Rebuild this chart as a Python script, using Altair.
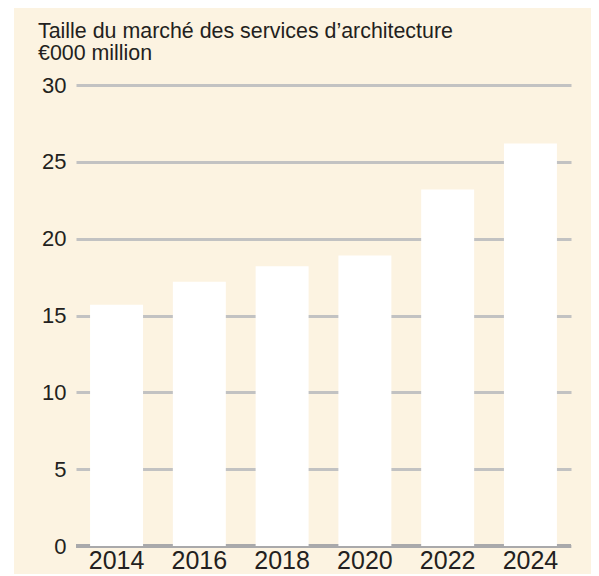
import altair as alt
import pandas as pd

years = ["2014", "2016", "2018", "2020", "2022", "2024"]
values = [15.7, 17.2, 18.2, 18.9, 23.2, 26.2]
y_ticks = [0, 5, 10, 15, 20, 25, 30]
title_lines = ["Taille du marché des services d’architecture", "€000 million"]

df = pd.DataFrame({"year": years, "value": values})

FONT = "Liberation Sans"
TEXT = "#231F20"
BG = "#FCF3E1"

base = alt.Chart(df)

# white strip at the far left of the panel
strip = base.mark_rect(color="#FFFFFF").encode(
    x=alt.value(-68), x2=alt.value(-62), y=alt.value(-77), y2=alt.value(489)
)

zero = base.mark_rule(color="#A9A9AB", strokeWidth=4).encode(
    y=alt.datum(0), x=alt.value(0), x2=alt.value(495)
)

bars = base.mark_bar(color="#FFFFFF").encode(
    x=alt.X(
        "year:N",
        sort=years,
        scale=alt.Scale(paddingInner=0.36, paddingOuter=0.17),
        axis=alt.Axis(
            title=None, labelAngle=0, domain=False, ticks=False,
            labelFontSize=25, labelFont=FONT, labelColor=TEXT, labelPadding=2,
        ),
    ),
    y=alt.Y(
        "value:Q",
        scale=alt.Scale(domain=[0, 30], nice=False),
        axis=alt.Axis(
            title=None, values=y_ticks, domain=False, ticks=False,
            grid=True, gridColor="#C2C2C2", gridWidth=3,
            labelFontSize=22, labelFont=FONT, labelColor=TEXT, labelPadding=10,
        ),
    ),
)

chart = (
    alt.layer(strip, zero, bars)
    .properties(
        width=495,
        height=461,
        background=BG,
        padding={"left": 68, "top": 77, "right": 20, "bottom": 28},
        autosize=alt.AutoSizeParams(type="none"),
        title=alt.TitleParams(
            text=title_lines,
            anchor="start",
            frame="group",
            dx=-38,
            offset=-56,
            font=FONT,
            fontSize=21.4,
            fontWeight="normal",
            color=TEXT,
            lineHeight=22,
        ),
    )
    .configure_view(stroke=None)
)

chart.save("out.html", embed_options={"renderer": "svg", "actions": False})
